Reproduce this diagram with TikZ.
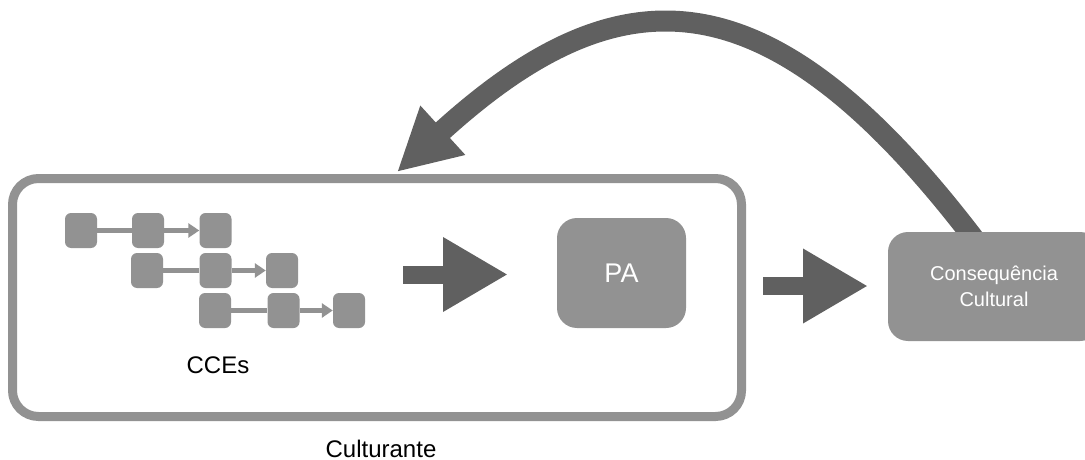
\documentclass[tikz,border=0pt]{standalone}
\usepackage{fontspec}
\setmainfont{Liberation Sans}
\usetikzlibrary{arrows.meta}
\definecolor{boxgray}{RGB}{146,146,146}
\definecolor{darkarrow}{RGB}{96,96,96}
\begin{document}
\begin{tikzpicture}[x=1pt,y=-1pt,
  cce/.style={fill=boxgray, rounded corners=6pt, minimum width=32pt, minimum height=35pt, inner sep=0pt},
  bigarrow/.style={draw=darkarrow, line width=18pt, -{Triangle[length=65pt,width=70pt]}},
  smallline/.style={draw=boxgray, line width=5pt},
  smallarrow/.style={smallline, -{Triangle[length=11pt,width=14pt]}},
  lbl/.style={font=\fontsize{24}{28}\selectfont, anchor=base, text=black, inner sep=0pt},
  graybox/.style={fill=boxgray, rounded corners=20pt, inner sep=0pt, text=white}
]
\useasboundingbox (0,0) rectangle (1085,460);

% feedback curved arrow (drawn first, box covers its start)
\coordinate (fbs) at (981,248);
\coordinate (fbe) at (397,172);
\draw[darkarrow, line width=21pt, -{Triangle[length=62pt,width=62pt]}]
  (fbs) .. controls (772,-30) and (622,-33) .. (fbe);

% Culturante frame
\node[draw=boxgray, line width=9pt, rounded corners=26pt, minimum width=729pt, minimum height=238pt, inner sep=0pt] (cult) at (377,297.5) {};
\node[lbl] (culttext) at (381,457) {Culturante};

% CCE chains
\node[cce] (a1) at (81,230.5) {};
\node[cce] (a2) at (148,230.5) {};
\node[cce] (a3) at (215.5,230.5) {};
\node[cce] (b1) at (147,270.5) {};
\node[cce] (b2) at (215.5,270.5) {};
\node[cce] (b3) at (282,270.5) {};
\node[cce] (c1) at (215,310.5) {};
\node[cce] (c2) at (283.5,310.5) {};
\node[cce] (c3) at (349,310.5) {};
\draw[smallline] (a1.east) -- (a2.west);
\draw[smallarrow] (a2.east) -- (a3.west);
\draw[smallline] (b1.east) -- (b2.west);
\draw[smallarrow] (b2.east) -- (b3.west);
\draw[smallline] (c1.east) -- (c2.west);
\draw[smallarrow] (c2.east) -- (c3.west);
\node[lbl] (ccetext) at (218,373) {CCEs};

% PA
\node[graybox, minimum width=129pt, minimum height=110pt, font=\fontsize{27}{30}\selectfont] (pa) at (621.5,273) {PA};

% Consequence
\node[graybox, minimum width=212pt, minimum height=109pt, align=center, font=\fontsize{20}{26}\selectfont] (cons) at (994,286.5) {Consequência\\Cultural};

% block arrows
\coordinate (a1s) at (403,274.5);
\coordinate (a1e) at (508,274.5);
\draw[bigarrow] (a1s) -- (a1e);
\coordinate (a2s) at (763,286);
\coordinate (a2e) at (868,286);
\draw[bigarrow] (a2s) -- (a2e);
\end{tikzpicture}
\end{document}
